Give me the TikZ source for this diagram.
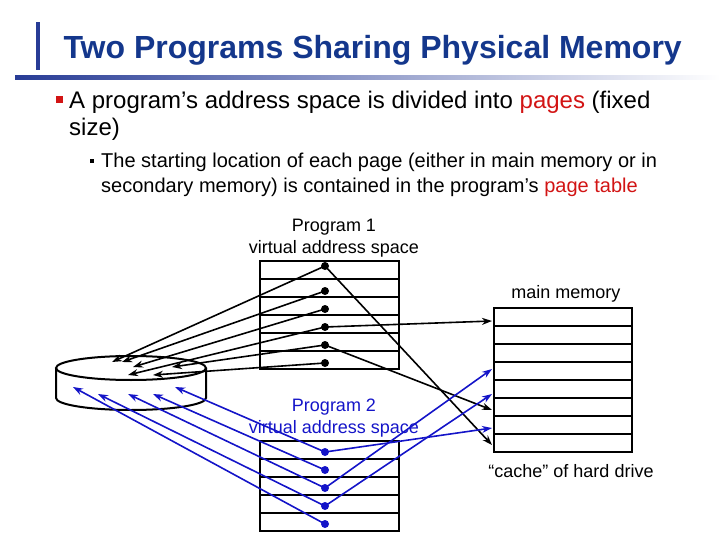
\documentclass[tikz,border=0pt]{standalone}
\usepackage{fontspec}
\setmainfont{Liberation Sans}
\usetikzlibrary{arrows.meta}
\definecolor{ttl}{RGB}{20,55,140}
\definecolor{bar}{RGB}{40,60,150}
\definecolor{rd}{RGB}{210,20,20}
\definecolor{bl}{RGB}{20,20,200}
\begin{document}
\begin{tikzpicture}[x=1pt,y=-1pt,
  cell/.style={draw,line width=2pt},
  dot/.style={circle,fill,inner sep=0pt,minimum size=8pt},
  arr/.style={line width=1.6pt,-{Stealth[length=10pt,width=7pt]}},
  lbl/.style={font=\fontsize{18}{22}\selectfont,align=center}]
\useasboundingbox (0,0) rectangle (720,540);
% title decoration
\fill[bar] (36,22) rectangle (40,70);
\shade[left color=bar,right color=white] (15,76) rectangle (720,80);
\node[anchor=west,text=ttl,font=\fontsize{32}{34}\selectfont\bfseries] (title) at (60,50) {Two Programs Sharing Physical Memory};
\fill[rd] (56,96) rectangle (63,103);
\node[anchor=north west,align=left,font=\fontsize{24}{27}\selectfont,inner sep=0pt] (b1) at (69,91) {A program’s address space is divided into \textcolor{rd}{pages} (fixed\\size)};
\fill (90,159) rectangle (94,163);
\node[anchor=north west,align=left,font=\fontsize{20}{25}\selectfont,inner sep=0pt] (b2) at (101,153) {The starting location of each page (either in main memory or in\\secondary memory) is contained in the program’s \textcolor{rd}{page table}};
% labels
\node[lbl] (l1) at (334,238) {Program 1\\virtual address space};
\node[lbl] (lm) at (566,294) {main memory};
\node[lbl] (lc) at (571,471) {“cache” of hard drive};
% tables
\foreach \i in {0,...,5} \draw[cell] (260,261+18*\i) rectangle (399,279+18*\i);
\foreach \i in {0,...,7} \draw[cell] (494,308+18*\i) rectangle (632,326+18*\i);
\foreach \i in {0,...,4} \draw[cell] (260,441+18*\i) rectangle (399,459+18*\i);
% disk
\draw[line width=2pt,fill=white] (56,368) -- (56,398) arc[start angle=180,end angle=0,x radius=75,y radius=12] -- (206,368);
\draw[line width=2pt] (131,368) ellipse[x radius=75,y radius=12];
% dots
\foreach \n/\y in {1/266,2/291,3/309,4/327,5/345,6/363} \node[dot] (p\n) at (325,\y) {};
\foreach \n/\y in {1/452,2/470,3/488,4/506,5/524} \node[dot,bl] (q\n) at (325,\y) {};
\foreach \n/\x/\y in {a/112/362,b/122/362,c/133/367,d/128/375,e/172/367,f/153/375,
  g/175/387,h/153/394,i/128/394,j/98/394,k/73/387,
  m1/492/321,m2/492/410,m3/492/445,m4/492/428,m5/492/369,m6/492/394}
  \coordinate (\n) at (\x,\y);
\draw[arr] (p1.center) -- (a);
\draw[arr] (p2.center) -- (b);
\draw[arr] (p3.center) -- (c);
\draw[arr] (p4.center) -- (d);
\draw[arr] (p5.center) -- (e);
\draw[arr] (p6.center) -- (f);
\draw[arr] (p1.center) -- (m3);
\draw[arr] (p4.center) -- (m1);
\draw[arr] (p5.center) -- (m2);
\begin{scope}[bl]
\draw[arr] (q1.center) -- (g);
\draw[arr] (q2.center) -- (h);
\draw[arr] (q3.center) -- (i);
\draw[arr] (q4.center) -- (j);
\draw[arr] (q5.center) -- (k);
\draw[arr] (q1.center) -- (m4);
\draw[arr] (q3.center) -- (m5);
\draw[arr] (q4.center) -- (m6);
\end{scope}
\node[lbl,text=bl] (l2) at (334,418) {Program 2\\virtual address space};
\end{tikzpicture}
\end{document}
